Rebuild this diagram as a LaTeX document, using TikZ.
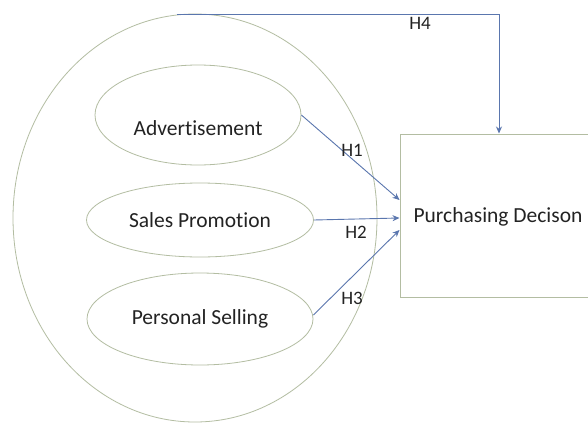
\documentclass[tikz,border=0pt]{standalone}
\usepackage{fontspec}
\setmainfont{Carlito}[Ligatures=NoCommon]
\usetikzlibrary{shapes.geometric,arrows.meta,calc}

\definecolor{rimgreen}{HTML}{B3BDA2}
\definecolor{linkblue}{HTML}{5A76AE}
\definecolor{inktext}{HTML}{232323}

\tikzset{
  oval/.style={ellipse, draw=rimgreen, line width=0.8pt, inner sep=0pt,
               text=inktext, font=\fontsize{21.5}{25}\selectfont},
  outcome/.style={rectangle, draw=rimgreen, line width=1pt, inner sep=0pt},
  label text/.style={text=inktext, font=\fontsize{21.5}{25}\selectfont},
  link/.style={draw=linkblue, line width=0.9pt,
               -{Stealth[length=7pt,width=6pt]}},
  hyp/.style={text=inktext, font=\fontsize{19}{22}\selectfont, inner sep=0pt}
}

\begin{document}
\begin{tikzpicture}[x=1pt,y=-1pt]
  \useasboundingbox (0,0) rectangle (588,423);
  \clip (0,0) rectangle (588,423);
  \fill[white] (0,0) rectangle (588,423);

  % promotion mix: outer ellipse with its three components
  \node[oval, minimum width=364pt, minimum height=408pt] (mix) at (195,218) {};
  \node[oval, minimum width=206pt, minimum height=100pt] (adv) at (198,115) {};
  \node[label text] (advtext) at (198,128) {Advertisement};
  \node[oval, minimum width=227pt, minimum height=74pt]  (sp)  at (200,220) {Sales Promotion};
  \node[oval, minimum width=226pt, minimum height=92pt]  (ps)  at (200,319) {Personal Selling};

  % dependent variable
  \node[outcome, minimum width=198pt, minimum height=163pt] (pd) at (499,215.5) {};
  \node[label text] (pdtext) at (498,217) {Purchasing Decison};

  % hypotheses
  \coordinate (t1) at ($(pd.west)+(0,-15.5)$);
  \coordinate (t2) at ($(pd.west)+(0,2.5)$);
  \coordinate (t3) at ($(pd.west)+(0,14.5)$);
  \draw[link] (adv.east) -- (t1);
  \draw[link] (sp.east) -- (t2);
  \draw[link] (ps.east) ++(0,-4) -- (t3);
  \draw[link] (mix.95) -| (pd.north);

  \node[hyp] (h1) at (352,150) {H1};
  \node[hyp] (h2) at (356,232) {H2};
  \node[hyp] (h3) at (352,298) {H3};
  \node[hyp] (h4) at (420,23) {H4};
\end{tikzpicture}
\end{document}
